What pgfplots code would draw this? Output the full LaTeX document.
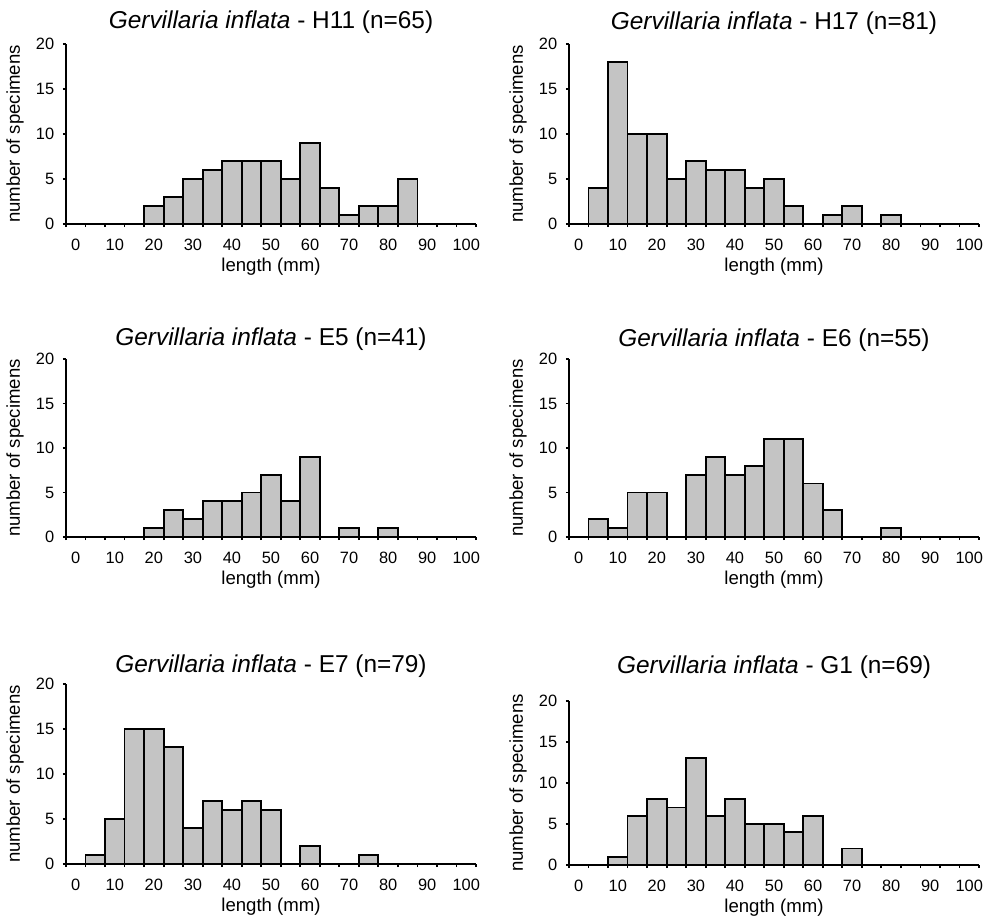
\documentclass[border=0pt]{standalone}
\usepackage{fontspec}
\setmainfont{Liberation Sans}
\usepackage{pgfplots}
\pgfplotsset{compat=1.18}
\definecolor{barfill}{RGB}{196,196,196}

% one histogram panel: bins of 5 mm, labels every 10 mm between the ticks
\pgfplotsset{
  hist/.style={
    scale only axis, width=205pt, height=90pt,
    anchor=south west,
    xmin=-2.5, xmax=102.5, ymin=0, ymax=20,
    ybar, bar width=5, bar shift=0pt,
    axis lines=left,
    axis line style={-, line width=0.9pt, black},
    tick align=outside, major tick length=1.6pt,
    tick style={line width=0.9pt, black},
    xtick={-2.5,2.5,7.5,12.5,17.5,22.5,27.5,32.5,37.5,42.5,47.5,52.5,57.5,62.5,67.5,72.5,77.5,82.5,87.5,92.5,97.5,102.5},
    xticklabels={0,,10,,20,,30,,40,,50,,60,,70,,80,,90,,100,,},
    xticklabel style={xshift=4.88pt, yshift=-2.6pt},
    ytick={0,5,10,15,20},
    yticklabel style={xshift=-0.8pt},
    tick label style={font=\fontsize{8.2}{9}\selectfont},
    /pgf/number format/assume math mode=true,
    xlabel={length (mm)},
    ylabel={number of specimens},
    xlabel style={at={(axis description cs:0.5,0)}, anchor=center, yshift=-21.5pt,
      font=\fontsize{9.3}{11}\selectfont},
    ylabel style={at={(axis description cs:-0.1244,0.5)}, anchor=center,
      font=\fontsize{9.3}{11}\selectfont},
    title style={at={(axis description cs:0.5,1)}, anchor=base,
      font=\fontsize{12.2}{14}\selectfont},
    clip=false,
  },
  bars/.style={fill=barfill, draw=black, line width=0.9pt},
}

\begin{document}
\begin{tikzpicture}
\path[use as bounding box] (0,0) rectangle (491.5pt,459.5pt);

% H11
\begin{axis}[hist, at={(33pt,347.5pt)},
  title={\textit{Gervillaria inflata} - H11 (n=65)}, title style={yshift=1.8pt}]
\addplot[bars] coordinates {
  (20,2) (25,3) (30,5) (35,6) (40,7) (45,7) (50,7)
  (55,5) (60,9) (65,4) (70,1) (75,2) (80,2) (85,5)
};
\end{axis}

% H17
\begin{axis}[hist, at={(284.5pt,347.5pt)},
  title={\textit{Gervillaria inflata} - H17 (n=81)}, title style={yshift=1.3pt}]
\addplot[bars] coordinates {
  (5,4) (10,18) (15,10) (20,10) (25,5) (30,7) (35,6)
  (40,6) (45,4) (50,5) (55,2) (65,1) (70,2) (80,1)
};
\end{axis}

% E5
\begin{axis}[hist, at={(33pt,191pt)}, height=89pt,
  title={\textit{Gervillaria inflata} - E5 (n=41)}, title style={yshift=0.5pt}]
\addplot[bars] coordinates {
  (20,1) (25,3) (30,2) (35,4) (40,4) (45,5)
  (50,7) (55,4) (60,9) (70,1) (80,1)
};
\end{axis}

% E6
\begin{axis}[hist, at={(284.5pt,191pt)}, height=89pt,
  title={\textit{Gervillaria inflata} - E6 (n=55)}, title style={yshift=0.3pt}]
\addplot[bars] coordinates {
  (5,2) (10,1) (15,5) (20,5) (30,7) (35,9) (40,7)
  (45,8) (50,11) (55,11) (60,6) (65,3) (80,1)
};
\end{axis}

% E7
\begin{axis}[hist, at={(33pt,27.5pt)},
  title={\textit{Gervillaria inflata} - E7 (n=79)}, title style={yshift=-0.3pt}]
\addplot[bars] coordinates {
  (5,1) (10,5) (15,15) (20,15) (25,13) (30,4)
  (35,7) (40,6) (45,7) (50,6) (60,2) (75,1)
};
\end{axis}

% G1
\begin{axis}[hist, at={(284.5pt,27pt)}, height=82pt,
  title={\textit{Gervillaria inflata} - G1 (n=69)}, title style={yshift=7.7pt}]
\addplot[bars] coordinates {
  (10,1) (15,6) (20,8) (25,7) (30,13) (35,6)
  (40,8) (45,5) (50,5) (55,4) (60,6) (70,2)
};
\end{axis}
\end{tikzpicture}
\end{document}
